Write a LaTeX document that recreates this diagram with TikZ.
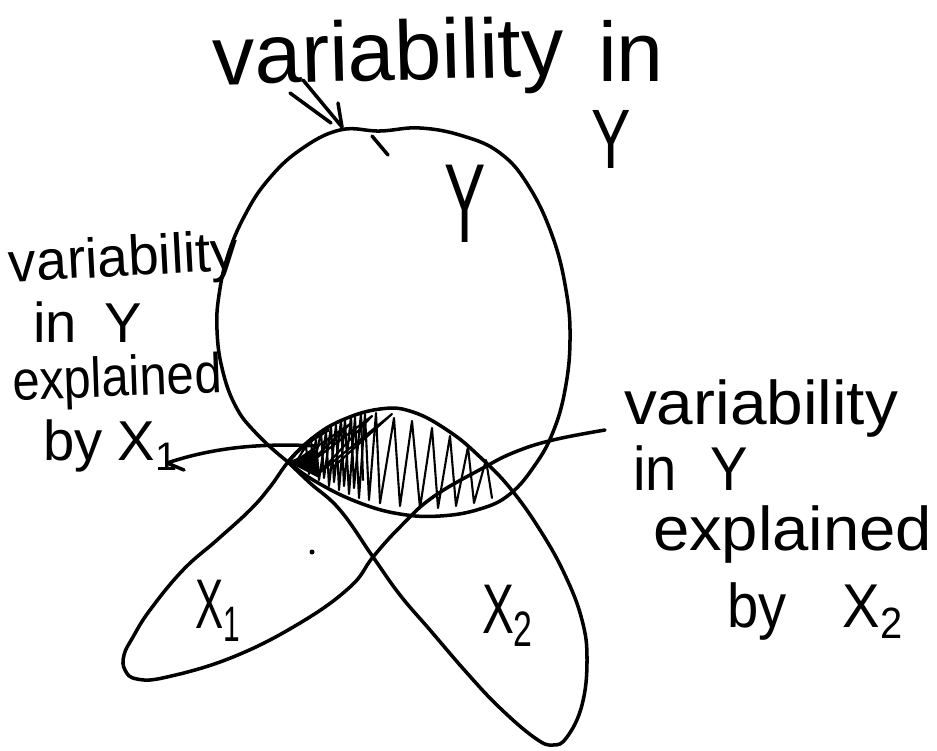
\documentclass[tikz,border=0pt]{standalone}
\usepackage{fontspec}
\newfontfamily\hand{Liberation Sans}
\newcommand\hsub[1]{\raisebox{-.35ex}{\fontsize{34}{34}\selectfont #1}}
\tikzset{
  pen/.style={line width=3pt, black},
  scrib/.style={line width=1.8pt, black},
  hw/.style={inner sep=0pt, outer sep=0pt, anchor=base west, font=\hand\fontsize{48}{56}\selectfont},
  hwbig/.style={hw, font=\hand\fontsize{72}{80}\selectfont},
}
\begin{document}
\begin{tikzpicture}[x=0.03cm, y=-0.03cm, line cap=round, line join=round]
\fill[white] (0,0) rectangle (937,750);
\useasboundingbox (0,0) rectangle (937,750);

% Y circle
\draw[pen] plot[smooth cycle, tension=0.7] coordinates {(340,130) (300,150) (268,180) (245,215) (228,255) (219,295) (217,330) (222,368) (235,405) (255,432) (288,462) (320,484) (360,503) (400,514) (440,516) (480,509) (510,494) (535,465) (553,432) (565,390) (570,340) (566,290) (552,235) (528,185) (500,153) (463,136) (420,128) (380,131)};
\draw[pen] (372,136) -- (388,155);

% X2
\draw[pen] plot[smooth, tension=0.7] coordinates {(288,462) (310,440) (340,421) (380,409) (413,412) (450,432) (480,457) (510,488) (540,530) (565,575) (582,620) (587,660) (582,705) (567,737) (553,745) (535,738) (500,708) (467,673) (430,630) (400,595) (373,557) (340,510) (310,483) (288,462)};

% X1
\draw[pen] plot[smooth, tension=0.7] coordinates {(605,430) (553,440) (515,452) (483,468) (433,497) (400,527) (373,557) (350,587) (300,623) (233,657) (167,677) (137,679) (125,670) (124,655) (133,637) (150,610) (183,570) (217,540) (250,510) (270,487) (288,462) (305,445) (328,430)};

% left pointer
\draw[pen] (184,470) -- (167,463) .. controls (215,447) and (262,443) .. (318,446);

% top arrow
\draw[pen] (303,80) -- (342,127);
\draw[pen] (290,93) -- (331,123);
\draw[pen] (338,103) -- (342,127);

% shading
\fill (288,462) -- (317,449) -- (319,478) -- cycle;
\draw[scrib] (296,462) -- (306,446) -- (309,474) -- (316,440) -- (319,480) -- (326,432) -- (329,486) -- (336,425) -- (339,490) -- (345,420) -- (349,494) -- (355,417) -- (359,498) -- (365,414) -- (369,500) -- (376,413) -- (380,503);
\draw[scrib] (302,452) -- (311,438) -- (313,470) -- (321,432) -- (324,478) -- (331,426) -- (334,482) -- (341,420) -- (344,486) -- (351,416) -- (354,488) -- (361,413) -- (363,480);
\draw[scrib] (300,458) -- (350,424) -- (306,466) -- (372,416) -- (318,474) -- (392,414) -- (330,470);
\draw[scrib] (380,503) -- (394,418) -- (400,506) -- (412,421) -- (420,508) -- (432,428) -- (438,508) -- (450,436) -- (456,506) -- (468,447) -- (474,503) -- (486,460) -- (492,498);
\fill (312,552) circle (2.5);

% texts
\node[hwbig, rotate=1.5] (topvar) at (213,85) {variability};
\node[hwbig] (topin) at (598,81) {in};
\node[hwbig, anchor=center, xscale=.7] (topY) at (611,139) {Y};
\node[hw, font=\hand\fontsize{96}{100}\selectfont, anchor=center, xscale=.55] (ylab) at (465,204) {Y};

\node[hw, rotate=3, xscale=.98] (lvar) at (10,282) {variability};
\node[hw] (lin) at (33,342) {in\hspace{.5em}Y};
\node[hw, rotate=2, xscale=.87] (lexp) at (13,400) {explained};
\node[hw] (lby) at (43,460) {by X\hsub{1}};

\node[hw, xscale=1.17, yscale=1.1] (rvar) at (624,424) {variability};
\node[hw, yscale=1.1] (rin) at (633,490) {in\hspace{.6em}Y};
\node[hw, xscale=1.16, yscale=1.1] (rexp) at (653,550) {explained};
\node[hw, yscale=1.1] (rby) at (727,627) {by\hspace{1em}X\hsub{2}};

\node[hw, xscale=.75, yscale=1.25] (x1lab) at (195,628) {X\hsub{1}};
\node[hw, xscale=.85, yscale=1.25] (x2lab) at (482,633) {X\hsub{2}};
\end{tikzpicture}
\end{document}
